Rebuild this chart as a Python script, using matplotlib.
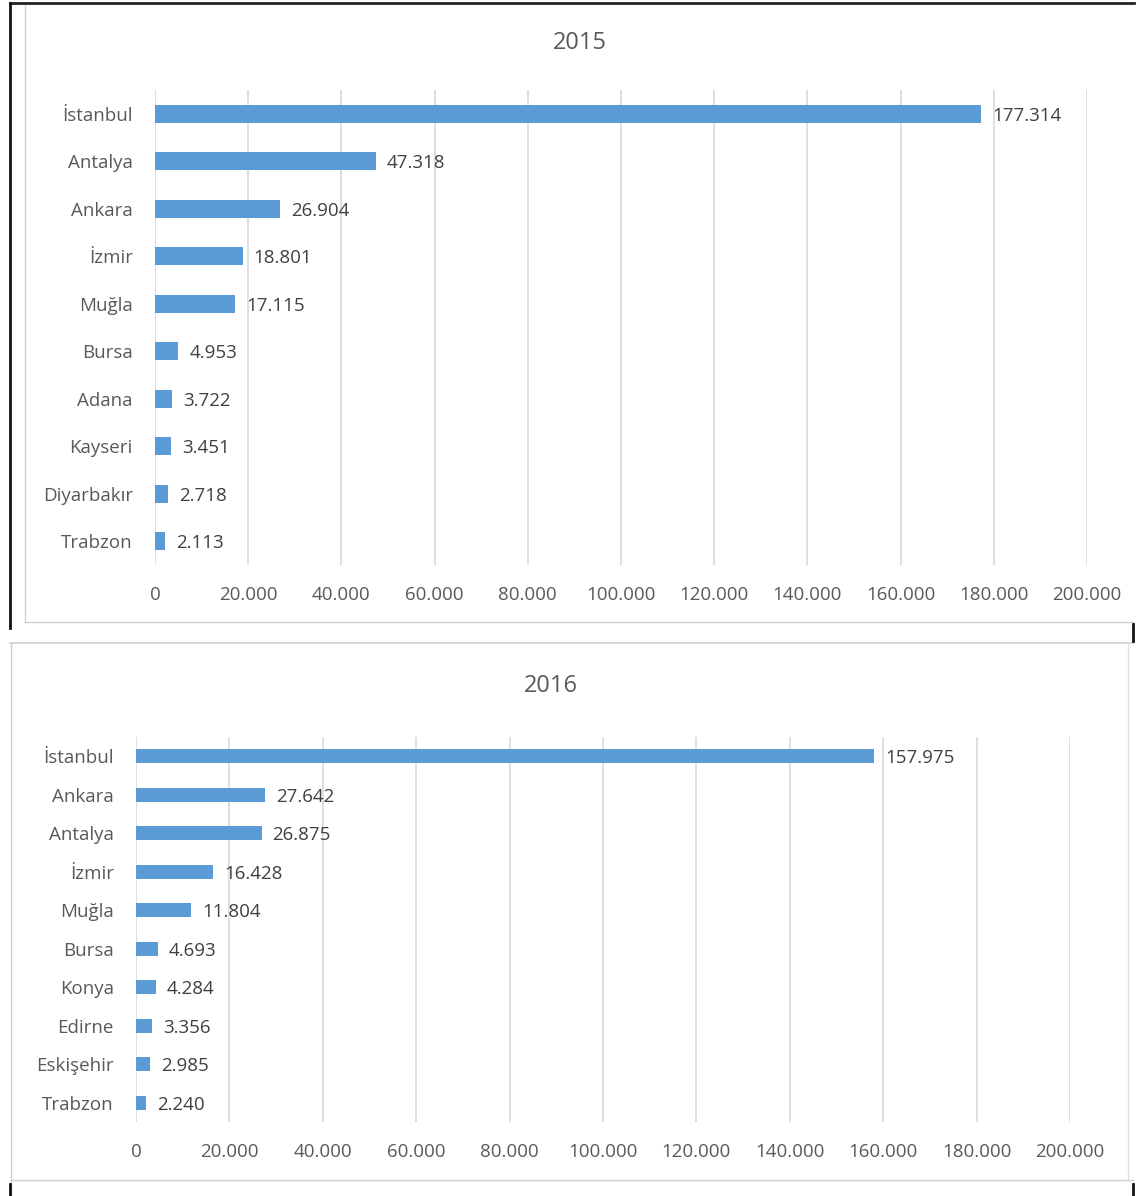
import matplotlib.pyplot as plt
from matplotlib.lines import Line2D

plt.rcParams['font.family'] = ['Open Sans', 'DejaVu Sans']

# 2015 figures
cities_2015 = ['İstanbul', 'Antalya', 'Ankara', 'İzmir', 'Muğla',
               'Bursa', 'Adana', 'Kayseri', 'Diyarbakır', 'Trabzon']
values_2015 = [177314, 47318, 26904, 18801, 17115, 4953, 3722, 3451, 2718, 2113]

# 2016 figures
cities_2016 = ['İstanbul', 'Ankara', 'Antalya', 'İzmir', 'Muğla',
               'Bursa', 'Konya', 'Edirne', 'Eskişehir', 'Trabzon']
values_2016 = [157975, 27642, 26875, 16428, 11804, 4693, 4284, 3356, 2985, 2240]

x_ticks = list(range(0, 200001, 20000))

BAR = '#5B9BD5'
TEXT = '#595959'
GRID = '#D9D9D9'

W, H = 1136, 1196
fig = plt.figure(figsize=(W / 100, H / 100), dpi=100)


def px(x0, y0, x1, y1):
    # pixel box (top-left origin) -> figure fraction rect
    return [x0 / W, 1 - y1 / H, (x1 - x0) / W, (y1 - y0) / H]


def tr(v):
    return f'{v:,}'.replace(',', '.')


def draw(ax, cities, values, bar_h):
    y = range(len(cities))
    ax.barh(y, values, height=bar_h, color=BAR, zorder=3)
    ax.set_ylim(len(cities) - 0.5, -0.5)
    ax.set_xlim(0, 200000)
    ax.set_yticks(list(y))
    ax.set_yticklabels(cities)
    ax.set_xticks(x_ticks)
    ax.set_xticklabels([tr(t) for t in x_ticks])
    ax.grid(axis='x', color=GRID, lw=1.2, zorder=0)
    for s in ax.spines.values():
        s.set_visible(False)
    ax.tick_params(length=0, labelsize=13.5, colors=TEXT)
    ax.tick_params(axis='x', pad=15)
    ax.tick_params(axis='y', pad=16)
    for i, v in enumerate(values):
        ax.annotate(tr(v), (v, i), xytext=(8, -1.5), textcoords='offset points',
                    ha='left', va='center', fontsize=13.5, color='#404040')


ax1 = fig.add_axes(px(155, 90, 1087, 565))
draw(ax1, cities_2015, values_2015, 0.37)
fig.text(580 / W, 1 - 43 / H, '2015', ha='center', va='center', fontsize=17, color=TEXT)

ax2 = fig.add_axes(px(136, 737, 1070, 1122))
draw(ax2, cities_2016, values_2016, 0.36)
fig.text(551 / W, 1 - 686 / H, '2016', ha='center', va='center', fontsize=17, color=TEXT)


def seg(x0, y0, x1, y1, color, lw):
    fig.add_artist(Line2D([x0 / W, x1 / W], [1 - y0 / H, 1 - y1 / H],
                          color=color, lw=lw, transform=fig.transFigure))


# panel frames
seg(25, 5, 25, 622, '#D0D0D0', 1)
seg(25, 622, 1133, 622, '#D0D0D0', 1)
seg(10, 643, 1133, 643, '#D0D0D0', 1.2)
seg(11, 643, 11, 1196, '#D0D0D0', 1)
seg(1128, 643, 1128, 1180, '#E0E0E0', 1)
seg(11, 1180, 1133, 1180, '#D0D0D0', 1)
seg(10, 3, 1134, 3, '#222222', 2)
seg(10, 3, 10, 628, '#111111', 2)
seg(1133, 624, 1133, 641, '#111111', 2)
seg(10, 1184, 10, 1196, '#111111', 2)
seg(1133, 1184, 1133, 1196, '#111111', 2)

fig.savefig('out.png', dpi=100)
